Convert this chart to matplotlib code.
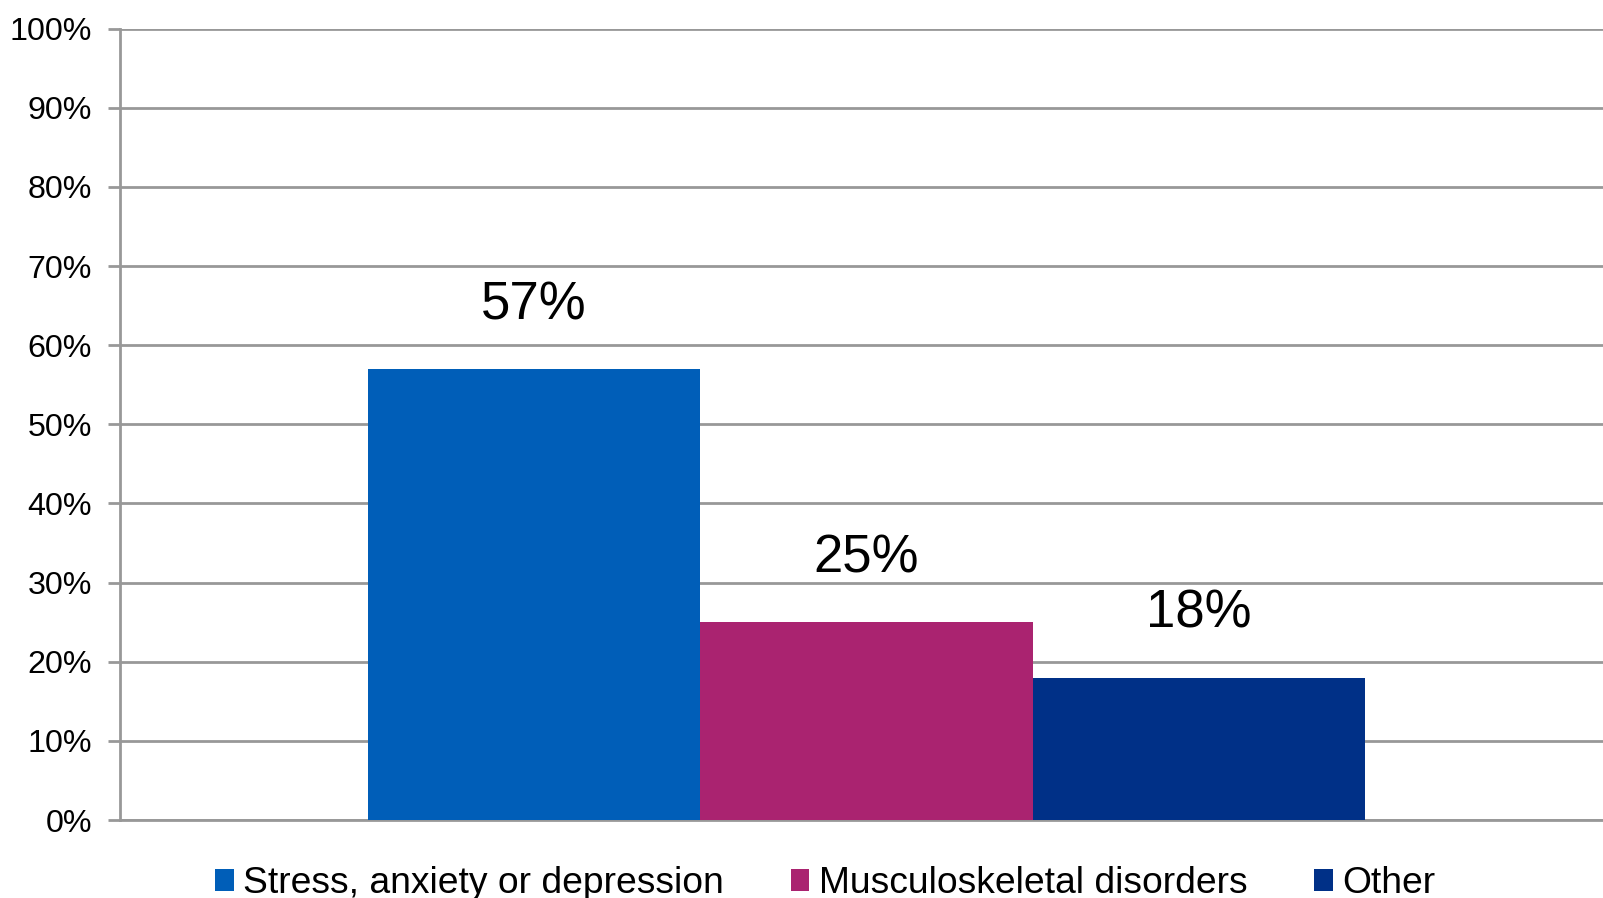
import matplotlib.pyplot as plt
from matplotlib.patches import Patch
from matplotlib.ticker import PercentFormatter

categories = ["Stress, anxiety or depression", "Musculoskeletal disorders", "Other"]
values = [57, 25, 18]
colors = ["#005EB8", "#AA2370", "#003087"]
y_ticks = list(range(0, 101, 10))

plt.rcParams["font.family"] = ["Liberation Sans", "DejaVu Sans"]

fig = plt.figure(figsize=(16.03, 8.98), dpi=100)
ax = fig.add_axes([120 / 1603, 78 / 898, 1 - 120 / 1603, (820 - 28.7) / 898])

x = range(len(values))
bars = ax.bar(x, values, width=1.0, color=colors, zorder=3)

for b, v in zip(bars, values):
    ax.annotate(f"{v}%", (b.get_x() + b.get_width() / 2, v),
                xytext=(0, 46), textcoords="offset points",
                ha="center", va="center", fontsize=38, color="black")

ax.set_xlim(-1.245, 3.215)
ax.set_ylim(0, 100)
ax.set_yticks(y_ticks)
ax.yaxis.set_major_formatter(PercentFormatter(decimals=0))
ax.set_xticks([])
ax.tick_params(axis="y", labelsize=23.2, length=9, width=2, color="#989898", pad=11)
ax.yaxis.grid(True, color="#989898", linewidth=2, zorder=0)
for s in ["top", "right"]:
    ax.spines[s].set_visible(False)
for s in ["left", "bottom"]:
    ax.spines[s].set_color("#989898")
    ax.spines[s].set_linewidth(2)

handles = [Patch(facecolor=c, label=l) for c, l in zip(colors, categories)]
fig.legend(handles=handles, loc="center", bbox_to_anchor=(0.5147, 0.016), ncol=3,
           frameon=False, fontsize=26.8, handlelength=0.5, handleheight=0.5,
           handletextpad=0.25, columnspacing=1.8)

fig.savefig("out.png", dpi=100)
